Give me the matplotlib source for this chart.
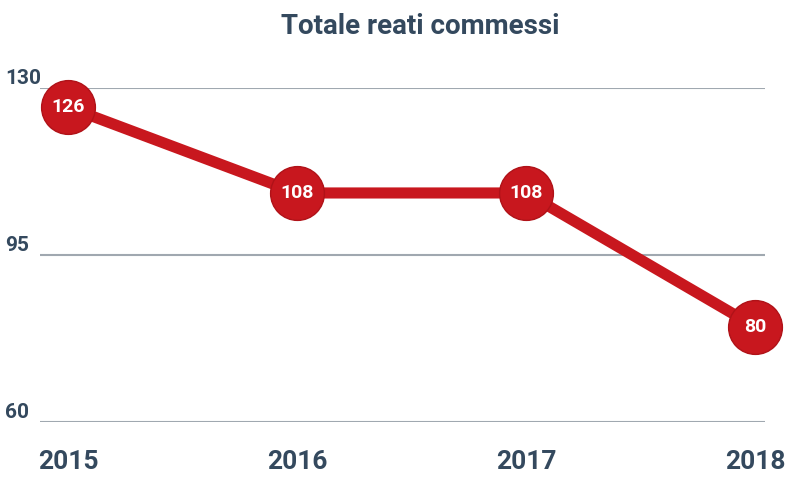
import matplotlib
matplotlib.use("Agg")
import matplotlib.pyplot as plt

years = [2015, 2016, 2017, 2018]
values = [126, 108, 108, 80]
yticks = [60, 95, 130]

plt.rcParams['font.family'] = ['Liberation Sans Narrow', 'Roboto', 'DejaVu Sans']
txt = '#34495e'
red = '#c8171e'

fig = plt.figure(figsize=(8, 4.84), dpi=100)
ax = fig.add_axes([40/800, 1-422/484, 725/800, (422-88)/484])
ax.set_xlim(2015-28/229, 2018+10/229)
ax.set_ylim(60, 130)
for y in yticks:
    ax.axhline(y, color='#a0a8b0', lw=1.5, zorder=1)
ax.plot(years, values, color=red, lw=8, zorder=2, clip_on=False)
ax.scatter(years, values, s=1500, color=red, edgecolors='#b01218', linewidths=1, zorder=3, clip_on=False)
for x, v in zip(years, values):
    ax.text(x, v, str(v), ha='center', va='center', color='white', fontsize=14, fontweight='bold', zorder=4)
for s in ax.spines.values():
    s.set_visible(False)
ax.set_xticks([]); ax.set_yticks([])
for y in yticks:
    ax.text(-35/725, (y-60)/70, str(y), transform=ax.transAxes, ha='left', va='bottom',
            fontsize=15, color=txt, fontweight='bold')
for x in years:
    ax.text(x, 60 - 70*28/334, str(x), ha='center', va='top', fontsize=19, color=txt, fontweight='bold')
fig.text(420/800, 1-27/484, 'Totale reati commessi', ha='center', va='center', fontsize=20,
         color=txt, fontweight='bold')
fig.savefig('out.png', dpi=100, facecolor='white')
